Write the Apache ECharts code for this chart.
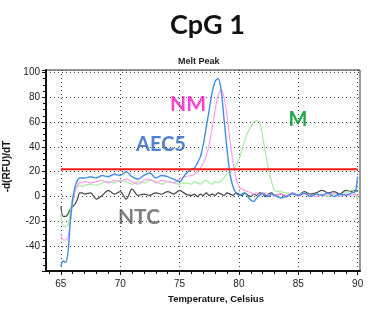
<!DOCTYPE html>
<html>
<head>
<meta charset="utf-8">
<script src="https://cdn.jsdelivr.net/npm/echarts@6/dist/echarts.min.js"></script>
<style>
html, body { margin: 0; padding: 0; background: #fff; }
#container { width: 372px; height: 313px; }
</style>
</head>
<body>
<div id="container"></div>
<script>
var temps = [65, 65.2, 65.4, 65.6, 65.8, 66, 66.2, 66.4, 66.6, 66.8, 67,
    67.5, 68, 68.5, 69, 69.5, 70, 70.5, 71, 71.5, 72, 72.5, 73, 73.5, 74, 74.5, 75,
    75.5, 76, 76.25, 76.5, 76.75, 77, 77.25, 77.5, 77.75, 78, 78.25, 78.5, 78.75,
    79, 79.25, 79.5, 79.75, 80, 80.25, 80.5, 80.75, 81, 81.25, 81.5, 81.75,
    82, 82.25, 82.5, 82.75, 83, 83.5, 84, 84.5, 85, 85.5, 86, 86.5, 87, 87.5,
    88, 88.5, 89, 89.5, 89.8, 90];
var aec5 = [-56, -52, -53, -45, -20, -2, 8, 13, 15, 15, 15,
    16, 15, 17, 16, 18, 17, 20, 16, 14, 17, 19, 15, 17, 16, 14, 12,
    18, 22, 23, 27, 32, 42, 56, 70, 84, 93, 95, 86, 62,
    38, 18, 8, 3, 1, 2, 3, 0, -3, -4, -1, 1,
    3, 1, 0, 2, 1, -1, 0, 2, 1, 3, 0, 2, 1, 3,
    0, 2, 1, 3, 4, 16];
var nm = [-30, -35, -35, -33, -20, -5, 4, 9, 11, 11, 12,
    11, 12, 13, 11, 13, 12, 14, 12, 10, 13, 14, 11, 13, 12, 11, 14,
    16, 17, 18, 20, 23, 27, 33, 42, 55, 70, 82, 86, 80,
    65, 45, 28, 15, 8, 6, 5, 4, 3, 2, 3, 1,
    2, 3, 1, 2, 0, 2, 1, 3, 0, 2, 1, 0, 2, 1,
    3, 0, 2, 1, 2, 0];
var m = [-14, -24, -24, -23, -12, 0, 5, 8, 9, 8, 9,
    10, 9, 11, 12, 11, 13, 12, 10, 12, 11, 13, 12, 10, 12, 11, 10,
    11, 10, 12, 11, 10, 12, 13, 11, 10, 12, 11, 13, 15,
    18, 20, 22, 25, 30, 37, 45, 52, 56, 60, 61, 60,
    48, 35, 22, 12, 5, 4, 3, 2, 1, 3, 0, 2, 1, 0,
    2, 1, 3, 5, 2, -3];
var ntc = [-8, -16, -16, -14, -10, -8, -6, -2, 3, 3, 2,
    3, -2, 1, 5, 2, 4, -2, 6, 1, 2, 1, 3, 2, 4, 2, 5,
    2, 1, 2, 0, 2, 1, 3, 1, 2, 1, 3, 2, 1,
    3, 2, 1, 3, 2, 1, 3, 1, 0, 2, 1, 3,
    2, 0, 2, 3, 1, 2, 0, 3, 1, 4, 2, 3, 5, 3,
    4, 2, 5, 4, 5, 4];
var threshold = 22;
var thresholdRange = [65, 90];
var xTicks = [65, 70, 75, 80, 85, 90];

function pairs(ys) {
    var out = [];
    for (var i = 0; i < temps.length; i++) {
        out.push([temps[i], ys[i]]);
    }
    return out;
}

var dom = document.getElementById("container");
var myChart = echarts.init(dom);
var labelFont = 'Lato, "Open Sans", sans-serif';
var smallFont = 'Arial, "Liberation Sans", sans-serif';
option = {
    animation: false,
    grid: {
        left: 46, top: 70, right: 12, bottom: 42,
        outerBoundsMode: 'none',
        containLabel: false,
        show: true, borderColor: '#333', borderWidth: 1
    },
    title: [{
        text: 'CpG 1',
        left: 165,
        top: 7,
        textStyle: { fontSize: 27, fontWeight: 'bold', color: '#111', fontFamily: labelFont }
    }, {
        text: 'Melt Peak',
        left: 173,
        top: 52,
        textStyle: { fontSize: 9, fontWeight: 'bold', color: '#222', fontFamily: smallFont }
    }],
    xAxis: {
        type: 'value',
        min: 63.75,
        max: 90.2,
        name: 'Temperature, Celsius',
        nameLocation: 'middle',
        nameGap: 22,
        nameTextStyle: { fontSize: 9.5, fontWeight: 'bold', color: '#111', fontFamily: smallFont, padding: [0, 0, 0, 26] },
        axisLine: { onZero: false, lineStyle: { color: '#111', width: 2 } },
        axisTick: { customValues: xTicks, length: 4, lineStyle: { color: '#111' } },
        minorTick: { show: true, splitNumber: 5, length: 3, lineStyle: { color: '#111' } },
        axisLabel: { customValues: xTicks, fontSize: 10, color: '#222', margin: 8, fontFamily: smallFont },
        splitLine: { show: true, lineStyle: { type: [1, 3], color: '#444', width: 1 } }
    },
    yAxis: {
        type: 'value',
        min: -60,
        max: 102,
        interval: 20,
        name: '-d(RFU)/dT',
        nameLocation: 'middle',
        nameGap: 28,
        nameTextStyle: { fontSize: 10, fontWeight: 'bold', color: '#111', fontFamily: smallFont, padding: [0, 0, 0, 8] },
        axisLine: { show: true, lineStyle: { color: '#111', width: 2 } },
        axisTick: { show: true, length: 4, lineStyle: { color: '#111' } },
        minorTick: { show: true, splitNumber: 4, length: 3, lineStyle: { color: '#111' } },
        axisLabel: {
            fontSize: 10, color: '#222', margin: 6,
            fontFamily: smallFont,
            formatter: function (v) {
                if (v < -40 || v > 100 || v % 20 !== 0) return '';
                return String(v);
            }
        },
        splitLine: { show: true, lineStyle: { type: [1, 3], color: '#444', width: 1 } }
    },
    series: [{
        name: 'NTC', type: 'line', data: pairs(ntc), showSymbol: false, smooth: 0.3,
        lineStyle: { color: '#444444', width: 1.2 }
    }, {
        name: 'M', type: 'line', data: pairs(m), showSymbol: false, smooth: 0.3,
        lineStyle: { color: '#a4ee9c', width: 1.2 }
    }, {
        name: 'NM', type: 'line', data: pairs(nm), showSymbol: false, smooth: 0.3,
        lineStyle: { color: '#ff9ef0', width: 1.2 }
    }, {
        name: 'AEC5', type: 'line', data: pairs(aec5), showSymbol: false, smooth: 0.3,
        lineStyle: { color: '#3d8ef0', width: 1.4 }
    }, {
        name: 'threshold', type: 'line', showSymbol: false,
        data: [[thresholdRange[0], threshold], [thresholdRange[1], threshold]],
        lineStyle: { color: '#ff1a1a', width: 2 }
    }],
    graphic: [
        { type: 'text', x: 188, y: 104, style: { text: 'NM', fill: '#ff3fcf', font: 'bold 21px ' + labelFont, align: 'center', verticalAlign: 'middle' } },
        { type: 'text', x: 161, y: 145, style: { text: 'AEC5', fill: '#4f82d2', font: 'bold 20px ' + labelFont, align: 'center', verticalAlign: 'middle' } },
        { type: 'text', x: 298, y: 120, style: { text: 'M', fill: '#22aa4a', font: 'bold 20px ' + labelFont, align: 'center', verticalAlign: 'middle' } },
        { type: 'text', x: 139, y: 217, style: { text: 'NTC', fill: '#7f7f7f', font: 'bold 21px ' + labelFont, align: 'center', verticalAlign: 'middle' } }
    ]
};
if (option && typeof option === "object") {
    myChart.setOption(option, true);
}
</script>
</body>
</html>
